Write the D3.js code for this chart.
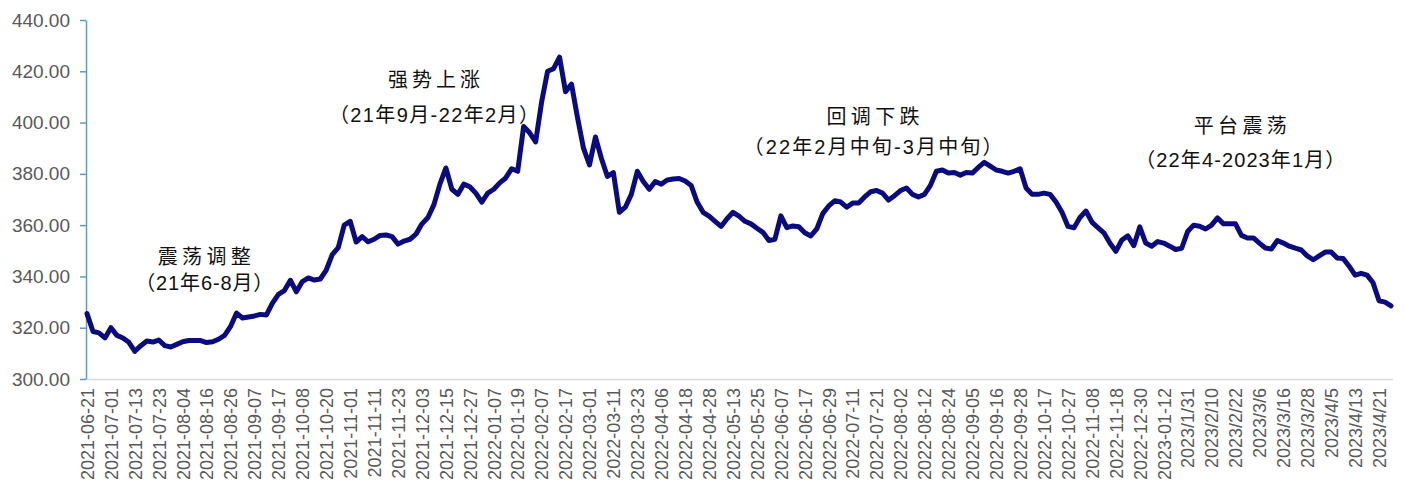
<!DOCTYPE html>
<html>
<head>
<meta charset="utf-8">
<script src="https://cdn.jsdelivr.net/npm/d3@7/dist/d3.min.js"></script>
<style>
  html, body { margin: 0; padding: 0; background: #fff; }
  svg { display: block; }
</style>
</head>
<body>
<svg id="chart" width="1405" height="500"></svg>
<script>
// ---- data ----
// Tick labels (one every 8 trading days)
const tickLabels = [
  "2021-06-21","2021-07-01","2021-07-13","2021-07-23","2021-08-04","2021-08-16","2021-08-26",
  "2021-09-07","2021-09-17","2021-10-08","2021-10-20","2021-11-01","2021-11-11","2021-11-23",
  "2021-12-03","2021-12-15","2021-12-27","2022-01-07","2022-01-19","2022-02-07","2022-02-17",
  "2022-03-01","2022-03-11","2022-03-23","2022-04-06","2022-04-18","2022-04-28","2022-05-13",
  "2022-05-25","2022-06-07","2022-06-17","2022-06-29","2022-07-11","2022-07-21","2022-08-02",
  "2022-08-12","2022-08-24","2022-09-05","2022-09-16","2022-09-28","2022-10-17","2022-10-27",
  "2022-11-08","2022-11-18","2022-12-30","2023-01-12","2023/1/31","2023/2/10","2023/2/22",
  "2023/3/6","2023/3/16","2023/3/28","2023/4/5","2023/4/13","2023/4/21"
];
// Series values, one every 2 trading days (4 per labelled interval)
const values = [
  325.5,318.5,318.0,316.0,320.0,317.0,316.0,314.3,310.8,313.0,
  314.8,314.4,315.2,313.0,312.5,313.5,314.5,315.0,315.0,315.0,
  314.2,314.5,315.5,317.0,320.5,325.7,323.8,324.2,324.6,325.2,
  325.0,329.6,333.0,334.5,338.5,334.0,338.0,339.4,338.6,339.0,
  342.5,348.5,351.2,360.0,361.5,353.4,355.5,353.5,354.5,356.0,
  356.2,355.5,352.6,353.8,354.5,356.5,360.5,363.0,368.0,376.0,
  382.3,374.0,372.0,376.0,375.0,372.5,369.0,372.5,374.0,376.5,
  378.4,382.0,381.0,398.5,396.0,392.5,408.0,420.0,421.0,425.5,
  412.0,415.0,402.0,390.0,383.5,394.4,386.0,379.0,380.5,365.0,
  367.0,372.0,381.0,377.0,374.0,377.0,376.0,377.6,378.0,378.2,
  377.2,375.5,369.0,365.0,363.5,361.5,359.5,362.5,365.0,363.5,
  361.5,360.5,358.8,357.2,354.0,354.5,363.6,359.0,359.7,359.4,
  357.0,355.8,358.5,364.5,367.5,369.5,369.0,367.0,368.6,368.6,
  371.0,373.0,373.5,372.5,369.8,371.5,373.5,374.5,372.0,371.0,
  372.0,375.5,381.0,381.5,380.3,380.5,379.5,380.5,380.3,382.5,
  384.5,383.0,381.5,381.0,380.3,381.0,382.0,374.5,372.0,372.0,
  372.5,372.0,369.0,365.0,359.5,359.0,363.0,365.5,361.2,359.0,
  357.0,353.0,349.8,354.2,355.8,352.0,359.3,353.0,351.8,353.6,
  353.0,351.8,350.5,351.0,357.5,360.0,359.6,358.5,360.0,362.8,
  360.5,360.5,360.5,356.0,355.0,355.0,353.0,351.1,350.7,354.0,
  353.0,351.8,351.0,350.3,348.0,346.5,348.0,349.5,349.5,347.2,
  347.0,344.0,340.5,341.2,340.5,337.5,330.5,330.0,328.5
];
const samplesPerLabel = 4;
const yTicks = [300, 320, 340, 360, 380, 400, 420, 440];

// Annotation texts
const annoTitles = ["震荡调整", "强势上涨", "回调下跌", "平台震荡"];
const annoPeriods = ["（21年6-8月）", "（21年9月-22年2月）", "（22年2月中旬-3月中旬）", "（22年4-2023年1月）"];

// ---- layout ----
const plot = { left: 87, right: 1391, top: 20, bottom: 379 };
// annotation anchors in data space: [sample index, value line1, value line2]
const annoAnchor = [
  [19.6, 348.3, 337.4],
  [58.0, 417.0, 402.9],
  [131.4, 402.9, 390.5],
  [192.8, 399.4, 385.4]
];
const annoTitleLen = [93, 92, 93, 93];
const annoPeriodLen = [138, 210, 259, 210];

const svg = d3.select("#chart");

const idx = d3.range(values.length);
const x = d3.scalePoint().domain(idx).range([plot.left, plot.right]).padding(0);
const y = d3.scaleLinear().domain([300, 440]).range([plot.bottom, plot.top]);
const xl = d3.scaleLinear().domain([0, values.length - 1]).range([plot.left, plot.right]);

// X axis
const xAxis = d3.axisBottom(x)
  .tickValues(idx.filter(i => i % samplesPerLabel === 0 && i / samplesPerLabel < tickLabels.length))
  .tickFormat(i => tickLabels[i / samplesPerLabel])
  .tickSize(0);

const gx = svg.append("g")
  .attr("transform", `translate(0,${plot.bottom})`)
  .call(xAxis);
gx.select(".domain")
  .attr("d", `M${plot.left - 1},0.5H${plot.right + 2}`)
  .attr("stroke", "#d9d9d9")
  .attr("stroke-width", 1.5);
gx.selectAll("text")
  .attr("transform", "rotate(-90)")
  .attr("x", -9)
  .attr("y", 0)
  .attr("dy", "0.35em")
  .attr("text-anchor", "end")
  .attr("fill", "#595959")
  .style("font-family", "'Liberation Sans', Arial, sans-serif")
  .style("font-size", "18px");

// Y axis
const yAxis = d3.axisLeft(y)
  .tickValues(yTicks)
  .tickFormat(d3.format(".2f"))
  .tickSize(6)
  .tickSizeOuter(0)
  .tickPadding(10);

const gy = svg.append("g")
  .attr("transform", `translate(${plot.left - 1},0)`)
  .call(yAxis);
gy.select(".domain").attr("stroke", "#5b9bd5").attr("stroke-width", 1.5);
gy.selectAll(".tick line").attr("stroke", "#5b9bd5").attr("stroke-width", 1.5);
gy.selectAll("text")
  .attr("fill", "#595959")
  .style("font-family", "'Liberation Sans', Arial, sans-serif")
  .style("font-size", "19px");

// Line
const line = d3.line()
  .x((d, i) => x(i))
  .y(d => y(d))
  .curve(d3.curveLinear);

svg.append("path")
  .datum(values)
  .attr("d", line)
  .attr("fill", "none")
  .attr("stroke", "#0b0b80")
  .attr("stroke-width", 5)
  .attr("stroke-linejoin", "round")
  .attr("stroke-linecap", "round");

// Annotations
const ga = svg.append("g");
annoTitles.forEach((t, i) => {
  const [ai, v1, v2] = annoAnchor[i];
  ga.append("text")
    .attr("x", xl(ai)).attr("y", y(v1))
    .attr("text-anchor", "middle")
    .attr("dominant-baseline", "central")
    .attr("textLength", annoTitleLen[i])
    .attr("lengthAdjust", "spacing")
    .attr("fill", "#111")
    .style("font-family", "'Noto Sans CJK SC', sans-serif")
    .style("font-size", "20px")
    .text(t);
  ga.append("text")
    .attr("x", xl(ai)).attr("y", y(v2))
    .attr("text-anchor", "middle")
    .attr("dominant-baseline", "central")
    .attr("textLength", annoPeriodLen[i])
    .attr("lengthAdjust", "spacing")
    .attr("fill", "#111")
    .style("font-family", "'Liberation Sans', 'Noto Sans CJK SC', sans-serif")
    .style("font-size", "20px")
    .text(annoPeriods[i]);
});
</script>
</body>
</html>
